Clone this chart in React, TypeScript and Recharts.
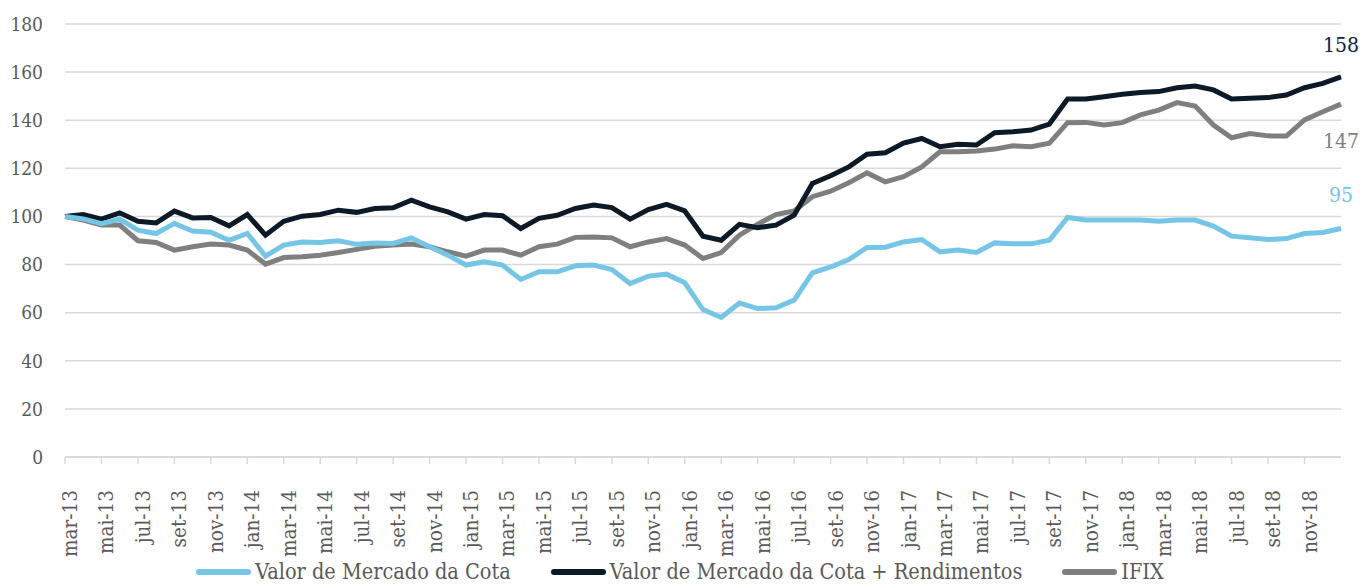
import React from 'react';
import { LineChart, Line, XAxis, YAxis, CartesianGrid, Legend, LabelList } from 'recharts';

const months = [
  'mar-13', 'abr-13', 'mai-13', 'jun-13', 'jul-13', 'ago-13', 'set-13', 'out-13', 'nov-13', 'dez-13',
  'jan-14', 'fev-14', 'mar-14', 'abr-14', 'mai-14', 'jun-14', 'jul-14', 'ago-14', 'set-14', 'out-14', 'nov-14', 'dez-14',
  'jan-15', 'fev-15', 'mar-15', 'abr-15', 'mai-15', 'jun-15', 'jul-15', 'ago-15', 'set-15', 'out-15', 'nov-15', 'dez-15',
  'jan-16', 'fev-16', 'mar-16', 'abr-16', 'mai-16', 'jun-16', 'jul-16', 'ago-16', 'set-16', 'out-16', 'nov-16', 'dez-16',
  'jan-17', 'fev-17', 'mar-17', 'abr-17', 'mai-17', 'jun-17', 'jul-17', 'ago-17', 'set-17', 'out-17', 'nov-17', 'dez-17',
  'jan-18', 'fev-18', 'mar-18', 'abr-18', 'mai-18', 'jun-18', 'jul-18', 'ago-18', 'set-18', 'out-18', 'nov-18', 'dez-18',
  'jan-19',
];

// labelled ticks: every other month, mar-13 .. nov-18
const xTicks = [
  'mar-13', 'mai-13', 'jul-13', 'set-13', 'nov-13', 'jan-14', 'mar-14', 'mai-14', 'jul-14', 'set-14', 'nov-14',
  'jan-15', 'mar-15', 'mai-15', 'jul-15', 'set-15', 'nov-15', 'jan-16', 'mar-16', 'mai-16', 'jul-16', 'set-16', 'nov-16',
  'jan-17', 'mar-17', 'mai-17', 'jul-17', 'set-17', 'nov-17', 'jan-18', 'mar-18', 'mai-18', 'jul-18', 'set-18', 'nov-18',
];

// Valor de Mercado da Cota
const cota = [
  100, 99, 97, 98.9, 94.3, 92.9, 97.1, 93.9, 93.4, 90.1,
  92.9, 83.5, 88.1, 89.4, 89.2, 89.9, 88.4, 89, 88.8, 91.1,
  87.4, 83.9, 79.8, 81.1, 79.8, 73.8, 77, 77, 79.5, 79.8,
  77.9, 72.1, 75.2, 76, 72.4, 61.3, 58, 64, 61.7, 62,
  65.2, 76.5, 79, 82.1, 87.1, 87.2, 89.4, 90.4, 85.3, 86,
  85, 89, 88.6, 88.6, 90.1, 99.6, 98.5, 98.5, 98.5, 98.5,
  98, 98.5, 98.5, 96, 91.8, 91.1, 90.4, 90.8, 92.9, 93.3,
  95,
];

// Valor de Mercado da Cota + Rendimentos
const cotaRend = [
  100, 100.8, 98.9, 101.5, 98, 97.3, 102.2, 99.4, 99.6, 96.1,
  100.8, 92.2, 98, 100.1, 100.8, 102.6, 101.7, 103.3, 103.6, 106.8,
  104, 101.9, 98.9, 100.8, 100.3, 95, 99.2, 100.5, 103.3, 104.7,
  103.7, 98.9, 102.9, 105, 102.3, 91.8, 90.1, 96.7, 95.3, 96.4,
  100.5, 113.7, 116.9, 120.6, 125.9, 126.5, 130.5, 132.4, 129, 130,
  129.7, 134.8, 135.2, 135.9, 138.4, 148.8, 148.8, 149.8, 150.8, 151.5,
  151.9, 153.5, 154.2, 152.6, 148.8, 149.1, 149.4, 150.5, 153.5, 155.3,
  158,
];

// IFIX
const ifix = [
  100, 98.5, 96.4, 96.4, 89.9, 89.2, 86, 87.4, 88.5, 88.1,
  86, 80.2, 82.9, 83.2, 83.9, 85, 86.3, 87.6, 88.1, 88.5,
  87.4, 85.3, 83.5, 86, 86, 83.9, 87.4, 88.5, 91.3, 91.5,
  91.1, 87.4, 89.4, 90.8, 88.1, 82.5, 85, 92.2, 96.8, 100.8,
  102.3, 108.2, 110.5, 114, 118.1, 114.4, 116.5, 120.6, 126.9, 126.9,
  127.2, 128, 129.4, 129, 130.4, 139, 139.1, 138, 139, 142.2,
  144.2, 147.3, 145.9, 138, 132.7, 134.5, 133.5, 133.4, 140.1, 143.5,
  146.7,
];

const yTicks = [0, 20, 40, 60, 80, 100, 120, 140, 160, 180];

const FONT = '"DejaVu Serif Condensed", "DejaVu Serif", serif';
const LIGHT_BLUE = '#75c6e6';
const DARK = '#0b1a26';
const GREY = '#7f7f7f';
const GRID = '#d9d9d9';

const data = months.map((m, i) => ({
  month: m,
  cota: cota[i],
  cotaRend: cotaRend[i],
  ifix: ifix[i],
}));

const last = months.length - 1;

const XTick = (props: any) => {
  const { x, y, payload } = props;
  return (
    <text
      transform={`translate(${x + 12},${y + 24}) rotate(-90)`}
      textAnchor="end"
      fill="#595959"
      fontSize={20.5}
      fontFamily={FONT}
    >
      {payload.value}
    </text>
  );
};

const endLabel = (color: string, dy: number) => (props: any) => {
  const { x, y, index, value } = props;
  if (index !== last) return null;
  return (
    <text x={x} y={y + dy} textAnchor="middle" fill={color} fontSize={21} fontFamily={FONT}>
      {Math.round(value)}
    </text>
  );
};

const legendItems = [
  { name: 'Valor de Mercado da Cota', color: LIGHT_BLUE },
  { name: 'Valor de Mercado da Cota + Rendimentos', color: DARK },
  { name: 'IFIX', color: GREY },
];

const renderLegend = () => (
  <div style={{ display: 'flex', justifyContent: 'center', alignItems: 'center', height: 24, fontFamily: FONT }}>
    {legendItems.map((it, i) => (
      <div key={it.name} style={{ display: 'flex', alignItems: 'center', marginLeft: i === 0 ? 0 : 40 }}>
        <span style={{ display: 'inline-block', width: 55, height: 6, borderRadius: 3, background: it.color, marginRight: 4 }} />
        <span style={{ fontSize: 21.5, color: '#595959', lineHeight: '24px' }}>{it.name}</span>
      </div>
    ))}
  </div>
);

export default function App() {
  return (
    <div style={{ position: 'absolute', left: 0, top: 0, width: 1360, height: 584, background: '#fff' }}>
      <LineChart width={1360} height={584} data={data} margin={{ top: 24, right: 19, left: 10, bottom: 0 }}>
        <CartesianGrid vertical={false} stroke={GRID} strokeWidth={1.5} />
        <XAxis
          dataKey="month"
          ticks={xTicks}
          interval={0}
          height={103}
          tick={<XTick />}
          tickLine={{ stroke: GRID, strokeWidth: 1.5 }}
          tickSize={7}
          axisLine={{ stroke: GRID, strokeWidth: 1.5 }}
        />
        <YAxis
          width={55}
          domain={[0, 180]}
          ticks={yTicks}
          interval={0}
          axisLine={false}
          tickLine={false}
          tickSize={0}
          tickMargin={22}
          tick={{ fill: '#595959', fontSize: 19, fontFamily: FONT }}
        />
        <Legend verticalAlign="bottom" content={renderLegend} wrapperStyle={{ left: 0, width: 1360, bottom: 0 }} />
        <Line dataKey="ifix" name="IFIX" stroke={GREY} strokeWidth={5} dot={false} isAnimationActive={false}>
          <LabelList content={endLabel(GREY, 44)} />
        </Line>
        <Line dataKey="cotaRend" name="Valor de Mercado da Cota + Rendimentos" stroke={DARK} strokeWidth={5} dot={false} isAnimationActive={false}>
          <LabelList content={endLabel('#0e2148', -25)} />
        </Line>
        <Line dataKey="cota" name="Valor de Mercado da Cota" stroke={LIGHT_BLUE} strokeWidth={5} dot={false} isAnimationActive={false}>
          <LabelList content={endLabel(LIGHT_BLUE, -26)} />
        </Line>
      </LineChart>
    </div>
  );
}
